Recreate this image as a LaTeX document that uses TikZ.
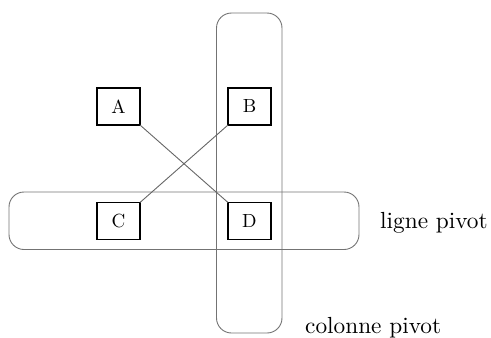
\documentclass[tikz,border=0pt]{standalone}
\usepackage{fontspec}
\setmainfont{lmroman10-regular}[Extension=.otf]
\begin{document}
\begin{tikzpicture}[x=1pt,y=-1pt,
  cell/.style={draw=black,line width=1.8pt,minimum width=43pt,minimum height=37pt,inner sep=0pt,outer sep=0pt,font=\fontsize{19}{22}\selectfont},
  pivotzone/.style={draw=black!55,line width=0.9pt,rounded corners=15pt},
  link/.style={draw=black!60,line width=0.9pt},
  lab/.style={font=\fontsize{23.3}{27}\selectfont,inner sep=0pt,anchor=base west}]
\useasboundingbox (0,0) rectangle (491,338);
\draw[pivotzone] (216.5,13) rectangle (282,333);
\draw[pivotzone] (9,192) rectangle (359,249.5);
\node[cell,fill=white] (A) at (118.5,106.5) {A};
\node[cell,fill=white] (B) at (249.5,106.5) {B};
\node[cell,fill=white] (C) at (118.5,221) {C};
\node[cell,fill=white] (D) at (249.5,221) {D};
\draw[link] (A.south east) -- (D.north west);
\draw[link] (B.south west) -- (C.north east);
\node[lab] (lp) at (380,228) {ligne pivot};
\node[lab] (cp) at (305,333) {colonne pivot};
\end{tikzpicture}
\end{document}
